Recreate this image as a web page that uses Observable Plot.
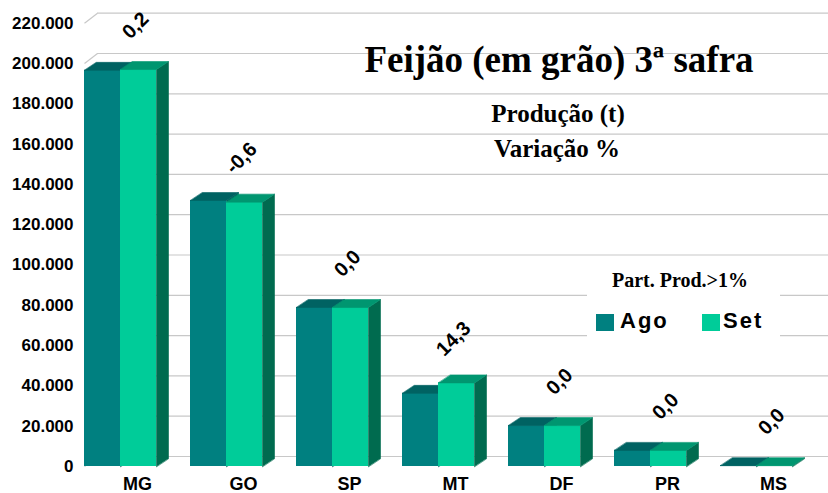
<!DOCTYPE html>
<html><head><meta charset="utf-8">
<script src="https://cdn.jsdelivr.net/npm/d3@7"></script>
<script src="https://cdn.jsdelivr.net/npm/@observablehq/plot@0.6"></script>
<style>
body{margin:0;background:#fff}
#wrap{position:relative;width:828px;height:493px;overflow:hidden;background:#fff}
#wrap svg text{font-weight:bold}
.t{position:absolute;white-space:nowrap;line-height:1;font-family:"Liberation Serif","Times New Roman",serif;font-weight:bold;color:#000}
.lg{position:absolute;white-space:nowrap;line-height:1;font-family:"Liberation Sans",Arial,sans-serif;font-weight:bold;font-size:22px;letter-spacing:2px;color:#000}
.sw{position:absolute;width:18px;height:17px}
</style>
</head><body>
<div id="wrap"></div>
<script>
// ---- data ----
const states = ["MG", "GO", "SP", "MT", "DF", "PR", "MS"];
const ago = [196600, 132000, 78900, 36300, 20300, 8000, 400];
const set = [197000, 131200, 78900, 41500, 20300, 8000, 400];
const variation = ["0,2", "-0,6", "0,0", "14,3", "0,0", "0,0", "0,0"];
const yTicks = [0, 20000, 40000, 60000, 80000, 100000, 120000, 140000, 160000, 180000, 200000, 220000];
const seriesNames = ["Ago", "Set"];

// ---- styles ----
const C = {
  agoFront: "#008080", agoTop: "#006262", agoSide: "#005a5a",
  setFront: "#00cc99", setTop: "#009670", setSide: "#006b4f",
  grid: "#c8c8c8"
};

// ---- geometry ----
const W = 828, H = 493, mL = 84, mR = 2, mT = 22.7, mB = 27;
const slots = states.length;
const yMax = 220000;
const ppx = (W - mL - mR) / slots;
const ppy = (H - mT - mB) / yMax;
const bw = 36 / ppx;
const barDx = 12 / ppx, barDy = 8 / ppy;
const wallDx = 13 / ppx, wallDy = 10 / ppy;
const xEnd = (W - mL) / ppx;

const fmt = d3.formatLocale({decimal: ",", thousands: ".", grouping: [3], currency: ["", ""]}).format(",");

function faces(values, k, kind) {
  const pts = [];
  values.forEach((v, i) => {
    const x0 = i + k * bw, x1 = x0 + bw;
    const poly = kind === "top"
      ? [[x0, v], [x1, v], [x1 + barDx, v + barDy], [x0 + barDx, v + barDy]]
      : [[x1, 0], [x1, v], [x1 + barDx, v + barDy], [x1 + barDx, barDy]];
    poly.forEach(([x, y]) => pts.push({x, y, id: i}));
  });
  return pts;
}

const poly = (data, color) => Plot.line(data, {x: "x", y: "y", z: "id", fill: color, stroke: color, strokeWidth: 0.6, curve: "linear-closed"});

const chart = Plot.plot({
  width: W, height: H,
  marginLeft: mL, marginRight: mR, marginTop: mT, marginBottom: mB,
  style: {fontFamily: "'Liberation Sans', Arial, sans-serif", fontSize: "17px", fontWeight: "bold", color: "#000", background: "transparent"},
  x: {domain: [0, slots], axis: null},
  y: {domain: [0, yMax], ticks: yTicks, tickFormat: fmt, tickSize: 0, tickPadding: 11, label: null},
  marks: [
    // back wall gridlines
    Plot.ruleY(yTicks, {y: d => d + wallDy, x1: () => wallDx, x2: () => xEnd, stroke: C.grid, strokeWidth: 1.2}),
    Plot.link(yTicks, {x1: () => 0, y1: d => d, x2: () => wallDx, y2: d => d + wallDy, stroke: C.grid, strokeWidth: 1.2}),
    // Ago bars
    Plot.rect(ago, {x1: (d, i) => i, x2: (d, i) => i + bw, y1: () => 0, y2: d => d, fill: C.agoFront}),
    poly(faces(ago, 0, "side"), C.agoSide),
    poly(faces(ago, 0, "top"), C.agoTop),
    // Set bars
    Plot.rect(set, {x1: (d, i) => i + bw, x2: (d, i) => i + 2 * bw, y1: () => 0, y2: d => d, fill: C.setFront}),
    poly(faces(set, 1, "side"), C.setSide),
    poly(faces(set, 1, "top"), C.setTop),
    // category labels
    Plot.text(states, {x: (d, i) => i + bw, y: () => 0, dx: 17, dy: 11, lineAnchor: "top", text: d => d, fontSize: 18, fontWeight: "bold", fill: "#000"}),
    // variation labels
    Plot.text(variation, {x: (d, i) => i + 1.5 * bw, y: (d, i) => set[i], dx: -3, dy: -44, rotate: -45, text: d => d, fontSize: 20, fontWeight: "bold", fill: "#000"})
  ]
});

const wrap = document.getElementById("wrap");
chart.style.position = "absolute";
chart.style.left = "0px";
chart.style.top = "0px";
wrap.appendChild(chart);

function addDiv(cls, text, css) {
  const d = document.createElement("div");
  d.className = cls;
  if (text != null) d.textContent = text;
  Object.assign(d.style, css);
  wrap.appendChild(d);
  return d;
}
// titles
addDiv("t", "Feijão (em grão) 3ª safra", {left: "559px", top: "41px", fontSize: "37px", transform: "translateX(-50%)"});
addDiv("t", "Produção (t)", {left: "558px", top: "101px", fontSize: "25px", transform: "translateX(-50%)"});
addDiv("t", "Variação %", {left: "557px", top: "136px", fontSize: "25px", transform: "translateX(-50%)"});
// legend
addDiv("", null, {position: "absolute", left: "587px", top: "260px", width: "193px", height: "82px", background: "#fff"});
addDiv("t", "Part. Prod.>1%", {left: "680px", top: "270px", fontSize: "20px", transform: "translateX(-50%)"});
addDiv("sw", null, {left: "596px", top: "314px", background: C.agoFront});
addDiv("lg", seriesNames[0], {left: "620px", top: "310px"});
addDiv("sw", null, {left: "702px", top: "314px", background: C.setFront});
addDiv("lg", seriesNames[1], {left: "723px", top: "310px"});
</script>
</body></html>
